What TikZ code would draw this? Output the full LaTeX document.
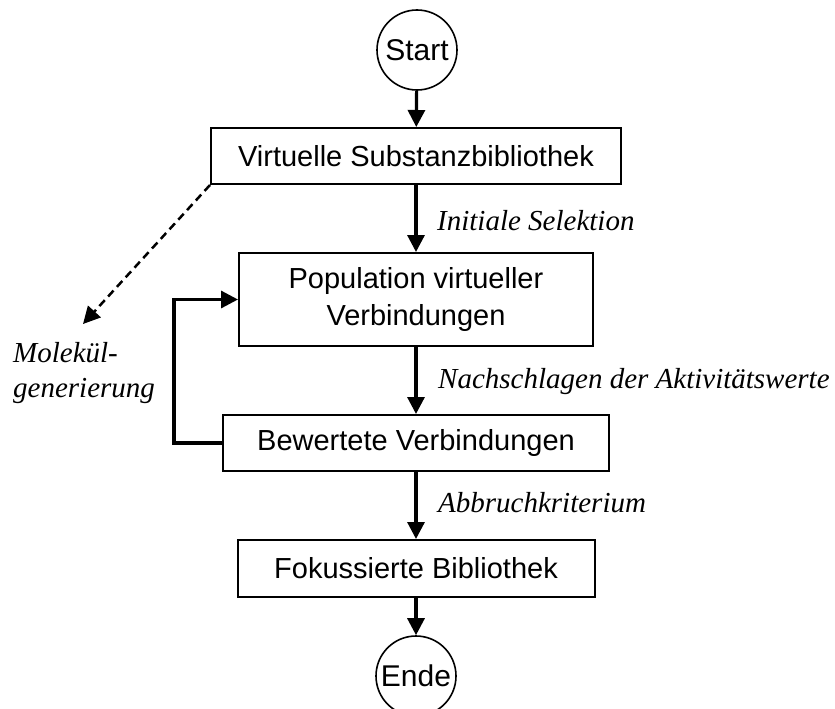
\documentclass[tikz,border=0pt]{standalone}
\usepackage{fontspec}
\setmainfont{Liberation Serif}
\newfontfamily\boxfont{Liberation Sans}
\newfontfamily\lblfont{Liberation Serif}
\usetikzlibrary{arrows.meta}
\begin{document}
\begin{tikzpicture}[x=1pt,y=-1pt,
  every node/.style={inner sep=0pt},
  procbox/.style={draw, line width=2pt, font=\boxfont\fontsize{29}{37}\selectfont, align=center},
  termnode/.style={draw, circle, line width=1.6pt, minimum size=80pt, font=\boxfont\fontsize{30}{34}\selectfont},
  flow/.style={line width=3.2pt, -{Triangle[length=17pt,width=17pt]}},
  lbl/.style={font=\lblfont\itshape\fontsize{29}{35}\selectfont, anchor=base west}]
\useasboundingbox (0,0) rectangle (835,709);
\node[termnode] (start) at (417,50) {Start};
\node[procbox, minimum width=410pt, minimum height=56pt] (b1) at (416,156) {Virtuelle Substanzbibliothek};
\node[procbox, minimum width=354pt, minimum height=93pt] (b2) at (416,299.5) {Population virtueller\\Verbindungen};
\node[procbox, minimum width=386pt, minimum height=56pt] (b3) at (416,443) {Bewertete Verbindungen};
\node[procbox, minimum width=357pt, minimum height=57pt] (b4) at (416,568.5) {Fokussierte Bibliothek};
\node[termnode] (ende) at (416,676) {Ende};
\draw[flow] (start) -- (b1);
\draw[flow] (b1) -- (b2);
\draw[flow] (b2) -- (b3);
\draw[flow] (b3) -- (b4);
\draw[flow] (b4) -- (ende);
\draw[flow] (b3.west) -- ++(-48,0) |- (b2.west);
\coordinate (mg) at (83,324);
\draw[line width=2.5pt, dash pattern=on 8pt off 5pt, -{Triangle[length=17pt,width=17pt]}] (b1.south west) -- (mg);
\node[lbl] (l1) at (437,230) {Initiale Selektion};
\node[lbl] (l2) at (438,388) {Nachschlagen der Aktivitätswerte};
\node[lbl] (l3) at (438,512) {Abbruchkriterium};
\node[lbl] (m1) at (13,362) {Molekül-};
\node[lbl] (m2) at (13,397) {generierung};
\end{tikzpicture}
\end{document}
